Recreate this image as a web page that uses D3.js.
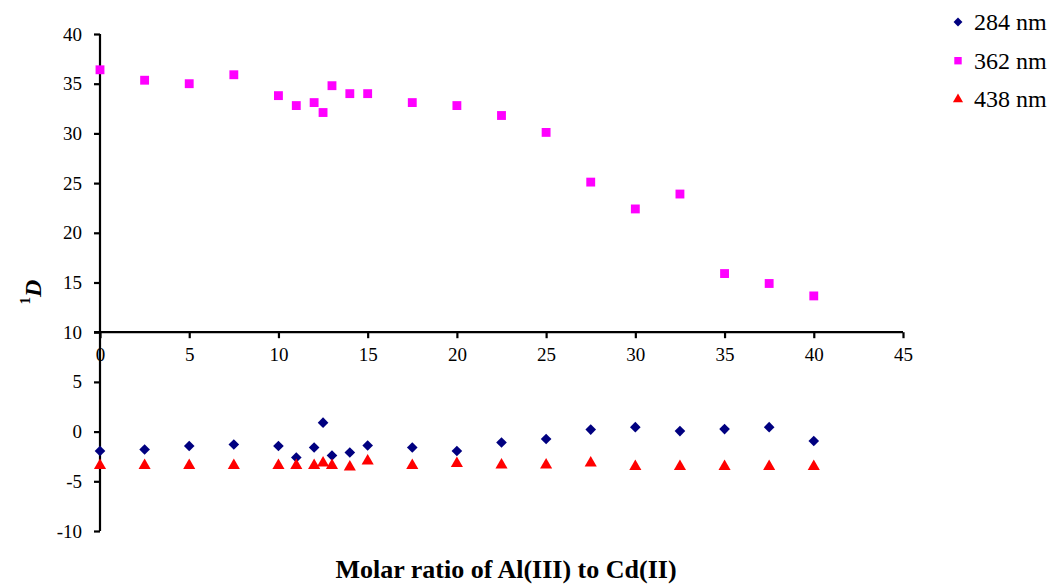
<!DOCTYPE html>
<html>
<head>
<meta charset="utf-8">
<script src="https://cdn.jsdelivr.net/npm/d3@7/dist/d3.min.js"></script>
<style>
  html, body { margin: 0; padding: 0; background: #fff; }
  svg { display: block; }
  svg text { font-family: "Liberation Serif", "Times New Roman", "DejaVu Serif", serif; }
</style>
</head>
<body>
<svg id="chart" width="1054" height="584"></svg>
<script>
// Molar ratio of Al(III) to Cd(II)
const ratios = [0, 2.5, 5, 7.5, 10, 11, 12, 12.5, 13, 14, 15, 17.5, 20, 22.5, 25, 27.5, 30, 32.5, 35, 37.5, 40];

// ¹D values at each wavelength
const d284 = [-1.95, -1.8, -1.45, -1.3, -1.45, -2.6, -1.6, 0.9, -2.4, -2.1, -1.4, -1.6, -1.95, -1.1, -0.75, 0.2, 0.45, 0.05, 0.25, 0.45, -0.95];
const d362 = [36.4, 35.35, 35.0, 35.9, 33.8, 32.8, 33.1, 32.1, 34.8, 34.0, 34.0, 33.1, 32.8, 31.8, 30.1, 25.1, 22.4, 23.9, 15.9, 14.9, 13.65];
const d438 = [-3.4, -3.4, -3.4, -3.4, -3.4, -3.4, -3.4, -3.15, -3.4, -3.55, -2.95, -3.4, -3.2, -3.35, -3.35, -3.15, -3.5, -3.5, -3.5, -3.5, -3.5];

const seriesNames = ["284 nm", "362 nm", "438 nm"];
const xTicks = [0, 5, 10, 15, 20, 25, 30, 35, 40, 45];
const yTicks = [-10, -5, 0, 5, 10, 15, 20, 25, 30, 35, 40];

const series = [
  { name: seriesNames[0], values: d284, color: "#000080", shape: d3.symbolDiamond2, size: 72 },
  { name: seriesNames[1], values: d362, color: "#FF00FF", shape: d3.symbolSquare2, size: 100 },
  { name: seriesNames[2], values: d438, color: "#FF0000", shape: d3.symbolTriangle2, size: 105 }
];

const serif = '"Liberation Serif", "Times New Roman", "DejaVu Serif", serif';
const svg = d3.select("#chart");

const x = d3.scaleLinear().domain([0, 45]).range([100, 903]);
const y = d3.scaleLinear().domain([-10, 40]).range([531, 34]);

// horizontal axis crosses the vertical one at ¹D = 10
const xAxisY = y(10);
const plain = d => String(d);

const xAxis = d3.axisBottom(x).tickValues(xTicks).tickSize(6).tickPadding(9).tickFormat(plain);
const gx = svg.append("g").attr("transform", `translate(0,${xAxisY})`).call(xAxis);
gx.select(".domain").attr("d", `M${x(0) - 6},0H${x(45)}`);

const yAxis = d3.axisLeft(y).tickValues(yTicks).tickSize(6).tickPadding(12).tickFormat(plain);
const gy = svg.append("g").attr("transform", `translate(${x(0)},0)`).call(yAxis);
gy.select(".domain").attr("d", `M0,${y(40)}V${y(-10)}`);

[gx, gy].forEach(g => {
  g.attr("font-family", serif).attr("font-size", 19);
  g.selectAll(".domain").attr("stroke", "#000").attr("stroke-width", 2.2).attr("fill", "none");
  g.selectAll(".tick line").attr("stroke", "#000").attr("stroke-width", 2.2);
  g.selectAll(".tick text").attr("fill", "#000").attr("font-family", serif);
});

// markers
series.forEach(s => {
  const sym = d3.symbol().type(s.shape).size(s.size);
  svg.append("g")
    .selectAll("path")
    .data(ratios.map((r, i) => [r, s.values[i]]))
    .join("path")
    .attr("d", sym)
    .attr("fill", s.color)
    .attr("transform", d => `translate(${x(d[0])},${y(d[1])})`);
});

// legend
const legend = svg.append("g").attr("transform", "translate(958,22)");
series.forEach((s, i) => {
  const row = legend.append("g").attr("transform", `translate(0,${i * 38.7})`);
  row.append("path")
    .attr("d", d3.symbol().type(s.shape).size(s.size * 0.7)())
    .attr("fill", s.color);
  row.append("text")
    .attr("x", 16)
    .attr("y", 8)
    .attr("font-family", serif)
    .attr("font-size", 24)
    .attr("fill", "#000")
    .text(s.name);
});

// axis titles
svg.append("text")
  .attr("x", 506)
  .attr("y", 578)
  .attr("text-anchor", "middle")
  .attr("font-family", serif)
  .attr("font-size", 26)
  .attr("font-weight", "bold")
  .text("Molar ratio of Al(III) to Cd(II)");

const yTitle = svg.append("text")
  .attr("transform", "translate(37,292) rotate(-90)")
  .attr("text-anchor", "middle")
  .attr("font-family", serif)
  .attr("font-size", 24)
  .attr("font-weight", "bold");
yTitle.append("tspan").attr("dy", "-0.45em").attr("font-size", 15).text("1");
yTitle.append("tspan").attr("dy", "0.45em").attr("font-style", "italic").text("D");
</script>
</body>
</html>
